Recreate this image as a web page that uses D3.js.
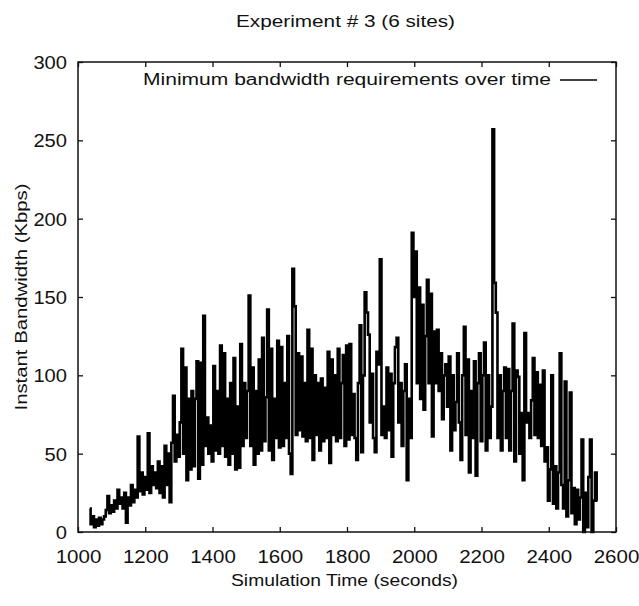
<!DOCTYPE html>
<html>
<head>
<meta charset="utf-8">
<script src="https://cdn.jsdelivr.net/npm/d3@7"></script>
<style>
  html, body { margin: 0; padding: 0; background: #fff; }
  svg { display: block; }
  text { font-family: "Liberation Sans", Arial, sans-serif; fill: #111; }
</style>
</head>
<body>
<svg id="chart" width="639" height="606"></svg>
<script>
// ---- data ----
const title = "Experiment # 3 (6 sites)";
const xLabel = "Simulation Time (seconds)";
const yLabel = "Instant Bandwidth (Kbps)";
const seriesName = "Minimum bandwidth requirements over time";
const xTicks = [1000, 1200, 1400, 1600, 1800, 2000, 2200, 2400, 2600];
const yTicks = [0, 50, 100, 150, 200, 250, 300];
const startTime = 1035;   // first sample (seconds)
const sampleStep = 5;     // seconds between samples
const bandwidth = [
  // 1035-1130
  15, 5, 10, 3, 8, 4, 9, 5, 8, 10, 14, 23, 12, 17, 13, 20, 15, 27, 18, 22,
  // 1135-1230
  15, 25, 6, 22, 17, 30, 19, 27, 22, 61, 26, 38, 24, 35, 27, 63, 25, 42, 30, 38,
  // 1235-1330
  28, 45, 25, 42, 22, 55, 30, 50, 19, 57, 87, 45, 62, 48, 70, 117, 50, 105, 33, 85,
  // 1335-1430
  40, 90, 42, 85, 109, 34, 108, 43, 138, 55, 73, 50, 68, 45, 106, 52, 90, 50, 119, 55,
  // 1435-1530
  114, 48, 85, 43, 95, 50, 111, 40, 80, 41, 120, 55, 95, 60, 90, 151, 55, 105, 43, 90,
  // 1535-1630
  50, 110, 52, 124, 58, 86, 142, 52, 117, 46, 85, 60, 122, 54, 118, 55, 95, 60, 125, 50,
  // 1635-1730
  37, 168, 144, 62, 114, 65, 112, 61, 95, 58, 129, 60, 117, 46, 100, 62, 95, 52, 98, 58,
  // 1735-1830
  92, 60, 115, 44, 110, 62, 100, 58, 117, 60, 95, 113, 55, 119, 59, 120, 62, 88, 60, 46,
  // 1835-1930
  95, 132, 51, 100, 153, 140, 126, 70, 101, 60, 51, 115, 107, 174, 62, 80, 60, 105, 65, 101,
  // 1935-2030
  48, 95, 118, 124, 70, 95, 55, 90, 107, 33, 85, 60, 191, 150, 179, 95, 156, 85, 145, 78,
  // 2035-2130
  125, 161, 95, 152, 61, 128, 95, 129, 90, 114, 72, 100, 107, 80, 112, 52, 100, 65, 83, 114,
  // 2135-2230
  70, 46, 100, 131, 62, 110, 38, 90, 60, 109, 36, 95, 114, 58, 100, 121, 52, 100, 60, 80,
  // 2235-2330
  257, 159, 140, 60, 100, 52, 90, 105, 60, 104, 52, 90, 133, 45, 103, 99, 50, 76, 33, 127,
  // 2335-2430
  70, 76, 60, 84, 111, 62, 102, 60, 94, 55, 103, 45, 54, 20, 40, 100, 18, 42, 15, 38,
  // 2435-2545
  114, 30, 15, 96, 10, 33, 89, 12, 28, 5, 27, 8, 22, 59, 0, 25, 3, 35, 59, 0, 20, 38, 20
];

// ---- layout ----
const svg = d3.select("#chart");
const L = 78, R = 616, T = 62, B = 532;
const x = d3.scaleLinear().domain([1000, 2600]).range([L, R]);
const y = d3.scaleLinear().domain([0, 300]).range([B, T]);

const points = bandwidth.map((v, i) => ({ t: startTime + i * sampleStep, v }));

// data line
const line = d3.line().x(d => x(d.t)).y(d => y(d.v)).curve(d3.curveStep);
svg.append("path")
  .datum(points)
  .attr("d", line)
  .attr("fill", "none")
  .attr("stroke", "#000")
  .attr("stroke-width", 2.6)
  .attr("stroke-linejoin", "miter");

// axes (inward ticks on all four sides)
function styleAxis(g) {
  g.select(".domain").remove();
  g.selectAll(".tick line").attr("stroke", "#111").attr("stroke-width", 1.3);
}
const gB = svg.append("g").attr("transform", `translate(0,${B})`)
  .call(d3.axisBottom(x).tickValues(xTicks).tickFormat(d3.format("d")).tickSizeInner(-5).tickSizeOuter(0).tickPadding(18));
styleAxis(gB);
gB.selectAll("text").attr("font-size", 18).attr("font-family", "Liberation Sans, Arial, sans-serif")
  .attr("fill", "#111")
  .each(function(d) { const s = String(d); d3.select(this).attr("textLength", s.length * 11.4).attr("lengthAdjust", "spacingAndGlyphs"); });

const gT = svg.append("g").attr("transform", `translate(0,${T})`)
  .call(d3.axisTop(x).tickValues(xTicks).tickFormat("").tickSizeInner(-5).tickSizeOuter(0));
styleAxis(gT);

const gL = svg.append("g").attr("transform", `translate(${L},0)`)
  .call(d3.axisLeft(y).tickValues(yTicks).tickFormat(d3.format("d")).tickSizeInner(-5).tickSizeOuter(0).tickPadding(11));
styleAxis(gL);
gL.selectAll("text").attr("font-size", 18).attr("font-family", "Liberation Sans, Arial, sans-serif")
  .attr("fill", "#111").attr("dy", "0.36em")
  .each(function(d) { const s = String(d); d3.select(this).attr("textLength", s.length * 11.2).attr("lengthAdjust", "spacingAndGlyphs"); });

const gR = svg.append("g").attr("transform", `translate(${R},0)`)
  .call(d3.axisRight(y).tickValues(yTicks).tickFormat("").tickSizeInner(-5).tickSizeOuter(0));
styleAxis(gR);

// frame
svg.append("rect")
  .attr("x", L).attr("y", T).attr("width", R - L).attr("height", B - T)
  .attr("fill", "none").attr("stroke", "#111").attr("stroke-width", 1.5);

// title and axis labels
svg.append("text").attr("x", 345.5).attr("y", 27).attr("text-anchor", "middle")
  .attr("font-size", 16).attr("textLength", 219).attr("lengthAdjust", "spacingAndGlyphs").text(title);
svg.append("text").attr("x", 344.5).attr("y", 586).attr("text-anchor", "middle")
  .attr("font-size", 16).attr("textLength", 227).attr("lengthAdjust", "spacingAndGlyphs").text(xLabel);
svg.append("text").attr("transform", "translate(27,297) rotate(-90)").attr("text-anchor", "middle")
  .attr("font-size", 16).attr("textLength", 227).attr("lengthAdjust", "spacingAndGlyphs").text(yLabel);

// legend
svg.append("text").attr("x", 551).attr("y", 85).attr("text-anchor", "end")
  .attr("font-size", 16).attr("textLength", 408).attr("lengthAdjust", "spacingAndGlyphs").text(seriesName);
svg.append("line").attr("x1", 560).attr("x2", 597).attr("y1", 80).attr("y2", 80)
  .attr("stroke", "#000").attr("stroke-width", 1.6);
</script>
</body>
</html>
